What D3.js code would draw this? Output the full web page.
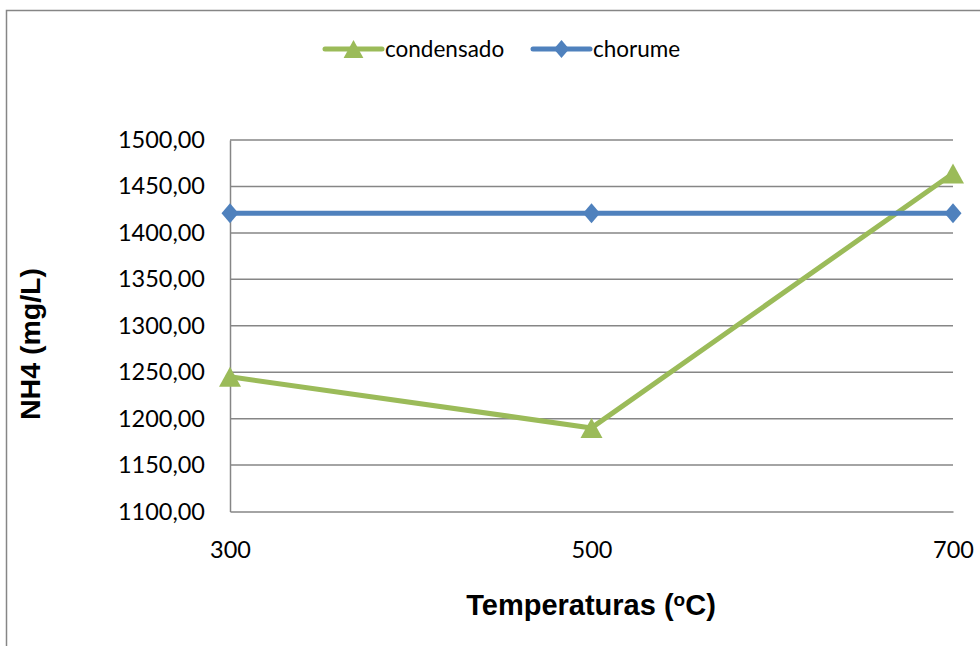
<!DOCTYPE html>
<html><head><meta charset="utf-8">
<script src="https://cdn.jsdelivr.net/npm/d3@7"></script>
<style>body{margin:0;background:#fff}svg{display:block}</style>
</head><body>
<svg id="c" width="980" height="646"></svg>
<script>
const categories = ["300", "500", "700"];
const condensado = [1245, 1190, 1464];
const chorume = [1421, 1421, 1421];
const yTicks = [1100, 1150, 1200, 1250, 1300, 1350, 1400, 1450, 1500];
const seriesNames = ["condensado", "chorume"];

const svg = d3.select("#c");
const gridColor = "#868686";
const green = "#9BBB59", blue = "#4F81BD";
const tickFont = "Lato, 'Open Sans', sans-serif";

// outer frame
svg.append("rect").attr("x", 6.5).attr("y", 10.5).attr("width", 1000).attr("height", 700)
  .attr("fill", "none").attr("stroke", gridColor).attr("stroke-width", 1.5);

const x = d3.scalePoint().domain(categories).range([230, 953]);
const y = d3.scaleLinear().domain([1100, 1500]).range([511.5, 140]);

// gridlines
svg.append("g").selectAll("line").data(yTicks.filter(d => d > 1100)).join("line")
  .attr("x1", 230).attr("x2", 953).attr("y1", d => y(d)).attr("y2", d => y(d))
  .attr("stroke", gridColor).attr("stroke-width", 1.5);

// axes
const yAxis = d3.axisLeft(y).tickValues(yTicks).tickSize(0).tickPadding(25)
  .tickFormat(d => d3.format(".2f")(d).replace(".", ","));
const gy = svg.append("g").attr("transform", "translate(230,0)").call(yAxis);
gy.select(".domain").attr("stroke", gridColor).attr("stroke-width", 1.5);
gy.selectAll("text").attr("font-family", tickFont).attr("font-size", 23.5).attr("fill", "#000");

const xAxis = d3.axisBottom(x).tickSize(0).tickPadding(30);
const gx = svg.append("g").attr("transform", "translate(0,511.5)").call(xAxis);
gx.select(".domain").attr("stroke", gridColor).attr("stroke-width", 1.5);
gx.selectAll("text").attr("font-family", tickFont).attr("font-size", 23.5).attr("fill", "#000");

// series
const tri = "M0,-10L11,10L-11,10Z";
const dia = "M0,-10L8.5,0L0,10L-8.5,0Z";
const line = d3.line().x((d, i) => x(categories[i])).y(d => y(d));

function drawSeries(vals, color, shape) {
  svg.append("path").datum(vals).attr("d", line).attr("fill", "none")
    .attr("stroke", color).attr("stroke-width", 5).attr("stroke-linejoin", "round");
  svg.append("g").selectAll("path").data(vals).join("path")
    .attr("d", shape).attr("fill", color)
    .attr("transform", (d, i) => `translate(${x(categories[i])},${y(d)})`);
}
drawSeries(condensado, green, tri);
drawSeries(chorume, blue, dia);

// legend
const legend = [
  {name: seriesNames[0], color: green, shape: tri, x0: 325},
  {name: seriesNames[1], color: blue, shape: dia, x0: 533}
];
const lg = svg.append("g").selectAll("g").data(legend).join("g");
lg.append("line").attr("x1", d => d.x0).attr("x2", d => d.x0 + 57).attr("y1", 49).attr("y2", 49)
  .attr("stroke", d => d.color).attr("stroke-width", 5).attr("stroke-linecap", "round");
lg.append("path").attr("d", d => d.shape).attr("fill", d => d.color)
  .attr("transform", d => `translate(${d.x0 + 28.5},49) scale(0.9)`);
lg.append("text").attr("x", d => d.x0 + 60).attr("y", 57).text(d => d.name)
  .attr("font-family", tickFont).attr("font-size", 22.5).attr("fill", "#000");

// axis titles
const xt = svg.append("text").attr("x", 591).attr("y", 615).attr("text-anchor", "middle")
  .attr("font-family", "'Liberation Sans', Arial, sans-serif").attr("font-weight", "bold")
  .attr("font-size", 29).attr("fill", "#000");
xt.append("tspan").text("Temperaturas (");
xt.append("tspan").text("o").attr("font-size", 19).attr("dy", -9);
xt.append("tspan").text("C)").attr("dy", 9);

svg.append("text").attr("transform", "translate(40,344) rotate(-90)").attr("text-anchor", "middle")
  .attr("font-family", "'Liberation Sans', Arial, sans-serif").attr("font-weight", "bold")
  .attr("font-size", 28.5).attr("fill", "#000").text("NH4 (mg/L)");
</script>
</body></html>
